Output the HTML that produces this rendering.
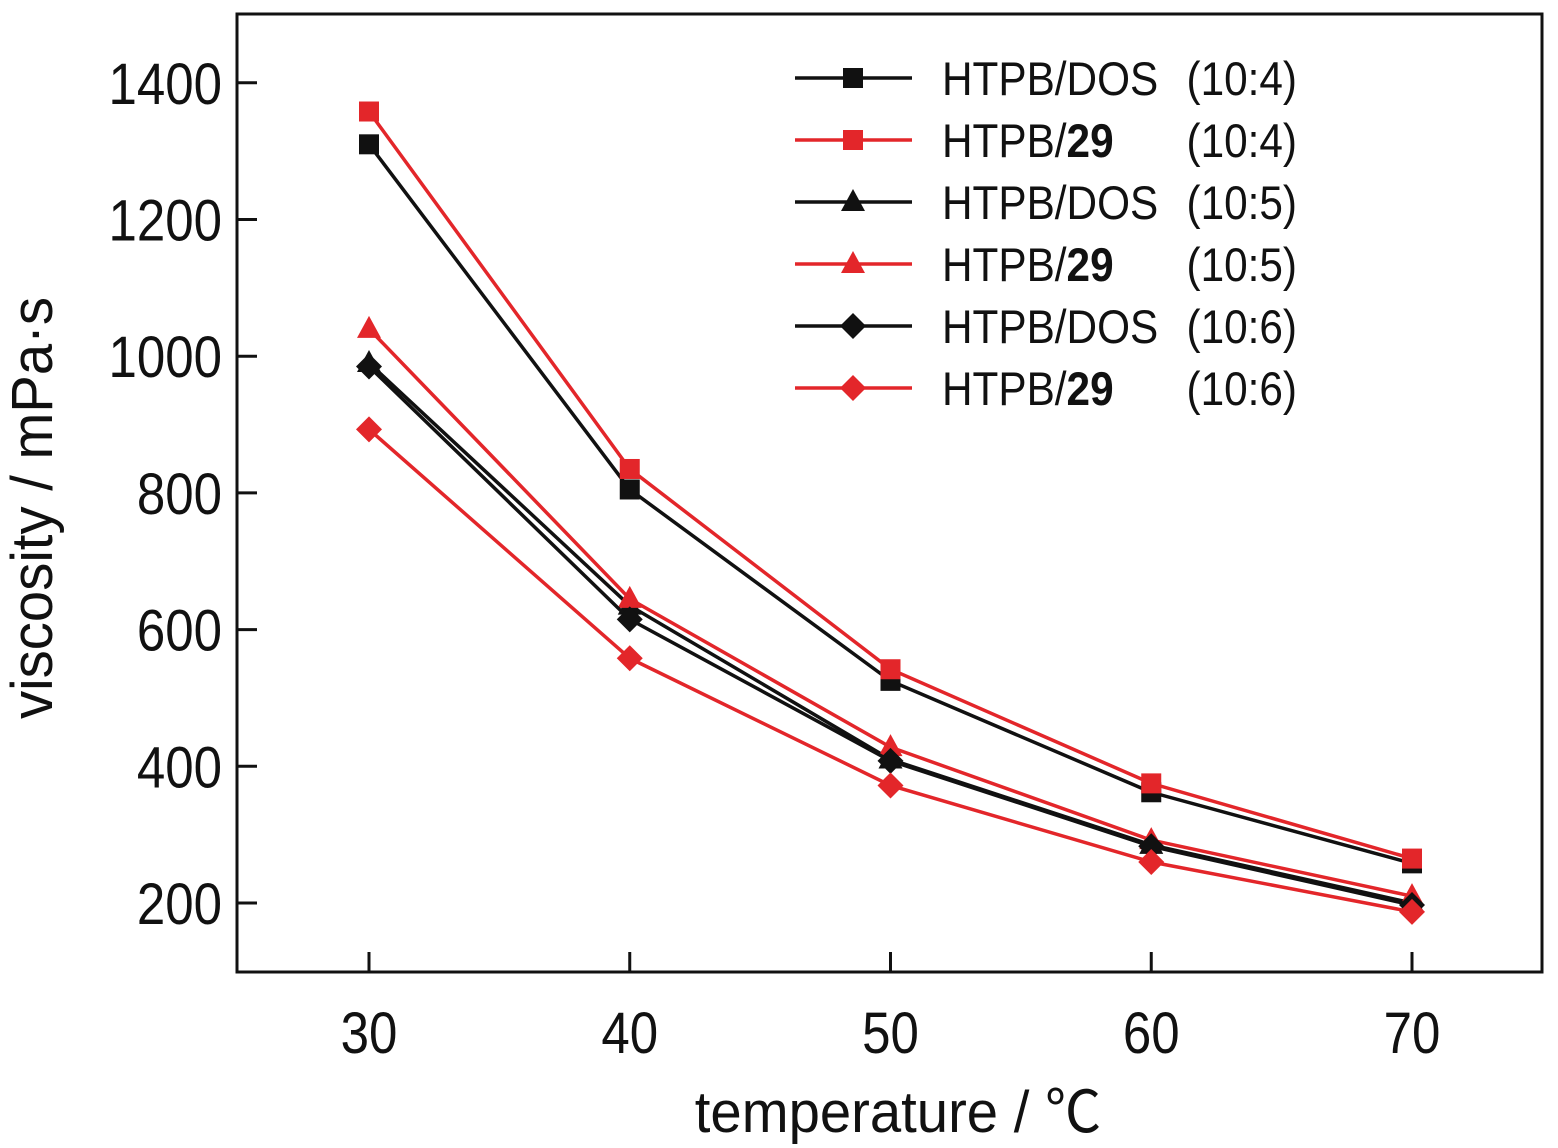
<!DOCTYPE html>
<html><head><meta charset="utf-8"><style>
html,body{margin:0;padding:0;background:#fff;}
svg{display:block;}
text{font-family:"Liberation Sans","Noto Sans CJK SC",sans-serif;}
</style></head><body>
<svg id="s" width="1558" height="1148" viewBox="0 0 1558 1148" xmlns="http://www.w3.org/2000/svg">
<rect x="237" y="14" width="1305" height="958" fill="none" stroke="#111" stroke-width="3"/>
<g id="ticks" stroke="#111" stroke-width="3"></g>
<g id="series"></g>
<g font-size="58" fill="#111" id="labels"></g>
<text x="0" y="0" font-size="58" fill="#111" transform="translate(52,508) rotate(-90) scale(0.97,1)" text-anchor="middle">viscosity / mPa·s</text>
<text x="0" y="0" font-size="58" fill="#111" transform="translate(898,1132) scale(0.97,1)" text-anchor="middle">temperature / ℃</text>
<g id="legend"></g>
</svg>
<script>
const NS="http://www.w3.org/2000/svg";
function el(p,t,a,txt){const e=document.createElementNS(NS,t);for(const k in a)e.setAttribute(k,a[k]);if(txt!==undefined)e.textContent=txt;p.appendChild(e);return e;}
const X=t=>369+(t-30)*26.075, Y=v=>903-(v-200)*0.6835;
const tk=document.getElementById('ticks'),lb=document.getElementById('labels');
[30,40,50,60,70].forEach(t=>{el(tk,'line',{x1:X(t),x2:X(t),y1:972,y2:952});
 el(lb,'text',{x:0,y:0,'text-anchor':'middle',transform:`translate(${X(t)},1053) scale(0.88,1)`},t);});
[200,400,600,800,1000,1200,1400].forEach(v=>{el(tk,'line',{x1:237,x2:257,y1:Y(v),y2:Y(v)});
 el(lb,'text',{x:0,y:0,'text-anchor':'end',transform:`translate(222,${Y(v)+21}) scale(0.88,1)`},v);});
const T=[30,40,50,60,70];
const S=[
 ['#111','sq',[1310,805,525,362,258],'HTPB/DOS','(10:4)'],
 ['#e3262a','sq',[1358,835,542,375,265],'HTPB/','(10:4)'],
 ['#111','tri',[990,635,410,285,200],'HTPB/DOS','(10:5)'],
 ['#e3262a','tri',[1040,645,428,292,210],'HTPB/','(10:5)'],
 ['#111','dia',[985,615,408,283,197],'HTPB/DOS','(10:6)'],
 ['#e3262a','dia',[893,558,372,260,187],'HTPB/','(10:6)']];
function mk(g,type,x,y,c){
 if(type=='sq')el(g,'rect',{x:x-10,y:y-10,width:20,height:20,fill:c});
 else if(type=='tri')el(g,'polygon',{points:`${x},${y-13} ${x-12},${y+9} ${x+12},${y+9}`,fill:c});
 else el(g,'polygon',{points:`${x},${y-13} ${x+13},${y} ${x},${y+13} ${x-13},${y}`,fill:c});}
const sg=document.getElementById('series'),lg=document.getElementById('legend');
S.forEach((s,i)=>{
 el(sg,'polyline',{points:T.map((t,j)=>X(t)+','+Y(s[2][j])).join(' '),fill:'none',stroke:s[0],'stroke-width':3.5});
 T.forEach((t,j)=>mk(sg,s[1],X(t),Y(s[2][j]),s[0]));
 const ly=78+i*62;
 el(lg,'line',{x1:795,x2:912,y1:ly,y2:ly,stroke:s[0],'stroke-width':3.5});
 mk(lg,s[1],853,ly,s[0]);
 const tx=el(lg,'text',{x:0,y:0,'font-size':47,fill:'#111',transform:`translate(942,${ly+17}) scale(0.9,1)`});
 el(tx,'tspan',{},s[3]);
 if(s[3]=='HTPB/') el(tx,'tspan',{'font-weight':'bold'},'29');
 el(lg,'text',{x:0,y:0,'font-size':47,fill:'#111','text-anchor':'end',transform:`translate(1297,${ly+17}) scale(0.9,1)`},s[4]);
});
</script>
</body></html>
